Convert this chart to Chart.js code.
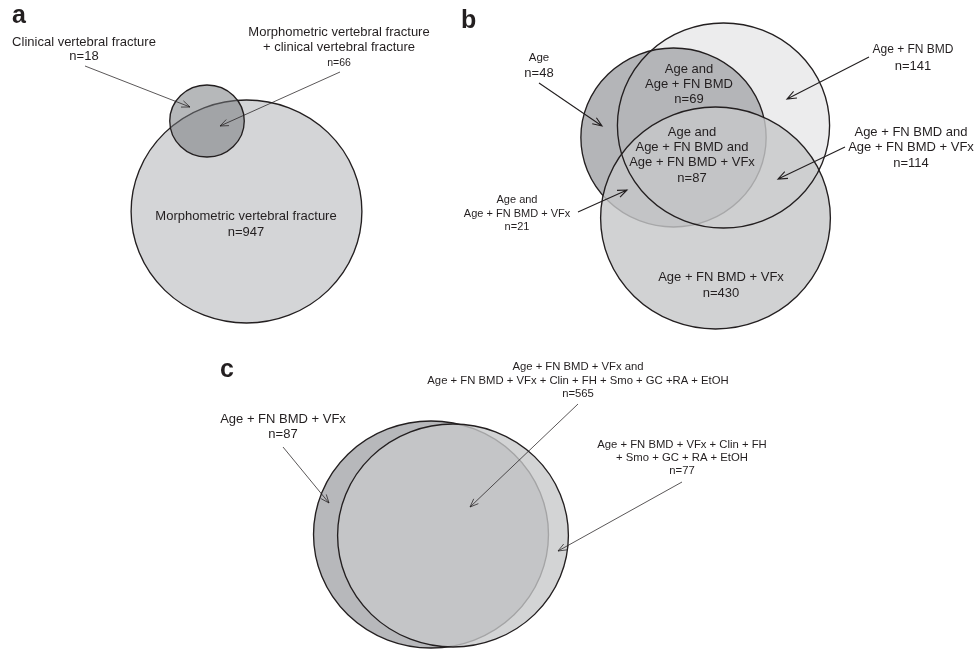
<!DOCTYPE html>
<html>
<head>
<meta charset="utf-8">
<script src="https://cdn.jsdelivr.net/npm/chart.js@4.4.1/dist/chart.umd.min.js"></script>
<style>
  html, body { margin: 0; padding: 0; background: #ffffff; }
  canvas { display: block; }
</style>
</head>
<body>
<canvas id="venn" width="974" height="650"></canvas>
<script>
// ---------------- Region counts ----------------
// a: clinical vs morphometric vertebral fracture
const fractureRegions = [
  'Clinical vertebral fracture',
  'Morphometric vertebral fracture\n+ clinical vertebral fracture',
  'Morphometric vertebral fracture'
];
const fractureCounts = [18, 66, 947];

// b: Age / Age + FN BMD / Age + FN BMD + VFx models
const modelRegions = [
  'Age',
  'Age and\nAge + FN BMD',
  'Age + FN BMD',
  'Age and\nAge + FN BMD and\nAge + FN BMD + VFx',
  'Age + FN BMD and\nAge + FN BMD + VFx',
  'Age and\nAge + FN BMD + VFx',
  'Age + FN BMD + VFx'
];
const modelCounts = [48, 69, 141, 87, 114, 21, 430];

// c: Age + FN BMD + VFx vs the full risk-factor model
const fullModelRegions = [
  'Age + FN BMD + VFx',
  'Age + FN BMD + VFx and\nAge + FN BMD + VFx + Clin + FH + Smo + GC +RA + EtOH',
  'Age + FN BMD + VFx + Clin + FH\n+ Smo + GC + RA + EtOH'
];
const fullModelCounts = [87, 565, 77];

const panelLetters = ['a', 'b', 'c'];

// ---------------- Layout (canvas units) ----------------
// circles: morph, clinical | FN BMD, Age, VFx | base model, full model
const circleX = [246.5, 207, 723.5, 673.5, 715.5, 431, 453];
const circleY = [211.5, 121, 125.5, 137.5, 218, 534.5, 535.5];
const circleR = [111.5, 36, 102.5, 89.5, 111, 113.5, 111.5];
const ASPECT = 1.035;           // horizontal stretch of every circle
const INK = '#231f20';

// paint order: [circle, fill, outlined]
const layers = [
  [0, '#d4d5d7', true],
  [1, 'rgba(118,120,124,0.53)', true],
  [2, '#ececed', false],
  [3, '#b4b5b8', true],
  [4, 'rgba(198,199,201,0.81)', false],
  [2, 'rgba(0,0,0,0)', true],
  [4, 'rgba(0,0,0,0)', true],
  [5, '#b7b8bb', true],
  [6, 'rgba(199,200,202,0.79)', true]
];

const letterPos = [[12, 23], [461, 28], [220, 377]];

// label placement: x, first-line y, line gap, font sizes per line
const labelLayout = [
  [84, 42, 14, [13, 13]],
  [339, 32, 15.5, [13, 13, 10.5]],
  [246, 216, 16, [13, 13]],
  [539, 58, 15, [11.5, 13]],
  [689, 69, 15, [13, 13, 13]],
  [913, 50, 16, [12, 13]],
  [692, 132, 15.4, [13, 13, 13, 13]],
  [911, 132, 15.5, [13, 13, 13]],
  [517, 200, 13.5, [11, 11, 11]],
  [721, 277, 16, [13, 13]],
  [283, 419, 15, [13, 13]],
  [578, 367, 13.5, [11.3, 11.3, 11.3]],
  [682, 445, 12.7, [11.3, 11.3, 11.3]]
];
// leader arrows: start x, start y, tip x, tip y, line width
const arrows = [
  [85, 66, 190, 107, 0.75],
  [340, 72, 220, 126, 0.75],
  null,
  [539, 83, 602, 126, 1.1],
  null,
  [869, 57, 787, 99, 1.1],
  null,
  [845, 147, 778, 179, 1.1],
  [578, 212, 627, 190, 1.1],
  null,
  [283, 447, 329, 503, 0.75],
  [578, 404, 470, 507, 0.75],
  [682, 482, 558, 551, 0.75]
];

// ---------------- Build chart ----------------
const labelTexts = [];
fractureRegions.forEach((t, i) => labelTexts.push(t.split('\n').concat('n=' + fractureCounts[i])));
modelRegions.forEach((t, i) => labelTexts.push(t.split('\n').concat('n=' + modelCounts[i])));
fullModelRegions.forEach((t, i) => labelTexts.push(t.split('\n').concat('n=' + fullModelCounts[i])));

const datasets = layers.map(([c, fill, outlined], i) => ({
  data: [{ x: circleX[c], y: circleY[c], r: circleR[c] }],
  backgroundColor: fill,
  borderColor: outlined ? INK : 'rgba(0,0,0,0)',
  borderWidth: outlined ? 1.3 : 0,
  clip: false,
  order: -i
}));

const FONT = '"Liberation Sans", Arial, Helvetica, sans-serif';

const stretchPlugin = {
  id: 'stretch',
  beforeDatasetDraw(chart, args) {
    const el = args.meta.data[0];
    const ctx = chart.ctx;
    ctx.save();
    ctx.translate(el.x, el.y);
    ctx.scale(ASPECT, 1);
    ctx.translate(-el.x, -el.y);
  },
  afterDatasetDraw(chart) {
    chart.ctx.restore();
  }
};

const annotationPlugin = {
  id: 'annotations',
  afterDatasetsDraw(chart) {
    const ctx = chart.ctx;
    const sx = chart.scales.x, sy = chart.scales.y;
    const px = v => sx.getPixelForValue(v);
    const py = v => sy.getPixelForValue(v);
    ctx.save();
    ctx.fillStyle = INK;
    ctx.strokeStyle = INK;

    // panel letters
    ctx.font = 'bold 25px ' + FONT;
    ctx.textAlign = 'left';
    ctx.textBaseline = 'alphabetic';
    panelLetters.forEach((l, i) => ctx.fillText(l, px(letterPos[i][0]), py(letterPos[i][1])));

    // region labels
    ctx.textAlign = 'center';
    ctx.textBaseline = 'middle';
    labelTexts.forEach((lines, i) => {
      const [x, y, gap, sizes] = labelLayout[i];
      lines.forEach((line, j) => {
        ctx.font = sizes[j] + 'px ' + FONT;
        ctx.fillText(line, px(x), py(y + j * gap));
      });
    });

    // leader arrows with open heads
    arrows.forEach(a => {
      if (!a) return;
      const x1 = px(a[0]), y1 = py(a[1]), x2 = px(a[2]), y2 = py(a[3]);
      const ang = Math.atan2(y2 - y1, x2 - x1);
      const L = a[4] > 1 ? 10 : 9, s = 0.38;
      ctx.lineWidth = a[4];
      ctx.beginPath();
      ctx.moveTo(x1, y1);
      ctx.lineTo(x2, y2);
      ctx.moveTo(x2 - L * Math.cos(ang - s), y2 - L * Math.sin(ang - s));
      ctx.lineTo(x2, y2);
      ctx.lineTo(x2 - L * Math.cos(ang + s), y2 - L * Math.sin(ang + s));
      ctx.stroke();
    });
    ctx.restore();
  }
};

new Chart(document.getElementById('venn'), {
  type: 'bubble',
  data: { datasets },
  options: {
    responsive: false,
    animation: false,
    events: [],
    layout: { padding: 0, autoPadding: false },
    scales: {
      x: { type: 'linear', min: 0, max: 974, display: false },
      y: { type: 'linear', min: 0, max: 650, reverse: true, display: false }
    },
    plugins: { legend: { display: false }, tooltip: { enabled: false } }
  },
  plugins: [stretchPlugin, annotationPlugin]
});
</script>
</body>
</html>
